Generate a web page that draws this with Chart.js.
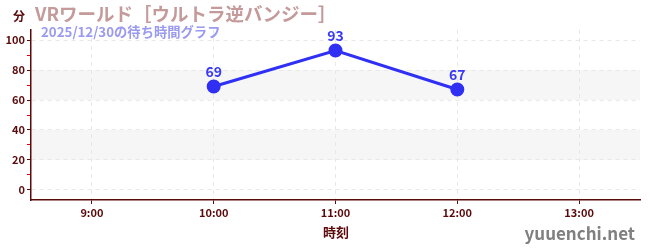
<!DOCTYPE html>
<html><head><meta charset="utf-8">
<script src="https://cdn.jsdelivr.net/npm/chart.js@4/dist/chart.umd.min.js"></script>
<style>html,body{margin:0;padding:0;background:#fff}#w{position:relative;width:650px;height:250px}</style>
</head><body><div id="w"><canvas id="c" width="650" height="250"></canvas></div>
<script>
const hours = [10, 11, 12];
const waits = [69, 93, 67];
const xTickHours = [9, 10, 11, 12, 13];
const yTicks = [0, 20, 40, 60, 80, 100];
const bands = [[20, 40], [60, 80]];
const titleText = "VRワールド［ウルトラ逆バンジー］";
const subText = "2025/12/30の待ち時間グラフ";
const unitText = "分";
const xTitle = "時刻";
const siteText = "yuuenchi.net";

const FONT = "'Noto Sans CJK JP','Noto Sans',sans-serif";
const DARK = "#5a0a0a";
const BLUE = "#3030f5";

const deco = {
  id: 'deco',
  beforeDraw(chart) {
    const {ctx, chartArea: a, scales: {y}} = chart;
    ctx.save();
    ctx.fillStyle = '#f6f6f6';
    bands.forEach(([lo, hi]) => {
      const t = y.getPixelForValue(hi), b = y.getPixelForValue(lo);
      ctx.fillRect(a.left, t, a.right - a.left, b - t);
    });
    ctx.restore();
  },
  afterDraw(chart) {
    const {ctx} = chart;
    const meta = chart.getDatasetMeta(0);
    ctx.save();
    ctx.textAlign = 'center';
    ctx.textBaseline = 'alphabetic';
    ctx.font = "bold 14px " + FONT;
    ctx.fillStyle = '#3a3af5';
    meta.data.forEach((p, i) => ctx.fillText(String(waits[i]), p.x, p.y - 10));
    ctx.textAlign = 'left';
    ctx.font = "bold 12px " + FONT;
    ctx.fillStyle = DARK;
    ctx.fillText(unitText, 13, 21);
    ctx.font = "bold 18.5px " + FONT;
    ctx.fillStyle = '#c49a9a';
    ctx.fillText(titleText, 35, 21);
    ctx.font = "bold 13.3px " + FONT;
    ctx.fillStyle = '#9a9af0';
    ctx.fillText(subText, 41, 37);
    ctx.textAlign = 'center';
    ctx.font = "bold 13px " + FONT;
    ctx.fillStyle = DARK;
    ctx.fillText(xTitle, 336, 237);
    ctx.textAlign = 'right';
    ctx.font = "bold 17px " + FONT;
    ctx.fillStyle = '#808080';
    ctx.fillText(siteText, 635, 240);
    ctx.restore();
  }
};

new Chart(document.getElementById('c'), {
  type: 'line',
  data: {
    datasets: [{
      data: hours.map((h, i) => ({x: h, y: waits[i]})),
      borderColor: BLUE,
      backgroundColor: BLUE,
      borderWidth: 3,
      pointRadius: 5.5,
      pointHoverRadius: 5.5,
      tension: 0
    }]
  },
  options: {
    responsive: false,
    animation: false,
    events: [],
    layout: {padding: {left: 0, top: 30, right: 10, bottom: 0}},
    plugins: {legend: {display: false}, tooltip: {enabled: false}},
    scales: {
      x: {
        type: 'linear', min: 8.5, max: 13.5,
        afterBuildTicks(s) { s.ticks = xTickHours.map(v => ({value: v})); },
        afterFit(s) { s.height = 50; },
        ticks: {
          color: DARK, font: {family: FONT, size: 11, weight: 'bold'}, padding: 2,
          callback: v => v + ':00'
        },
        grid: {color: '#e8e8e8', tickColor: DARK, tickLength: 4},
        border: {color: DARK, width: 1.5, dash: [4, 4]},
      },
      y: {
        min: -6.67, max: 106.67,
        afterBuildTicks(s) {
          const t = [];
          for (let v = 0; v <= 100; v += 10) t.push({value: v});
          s.ticks = t;
        },
        afterFit(s) { s.width = 31; },
        ticks: {
          color: DARK, font: {family: FONT, size: 11, weight: 'bold'}, padding: 2,
          callback: v => (v % 20 === 0 ? String(v) : '')
        },
        grid: {
          color: c => (c.tick && c.tick.value % 20 === 0 ? '#e8e8e8' : 'rgba(0,0,0,0)'),
          tickColor: c => (c.tick && c.tick.value % 20 === 0 ? DARK : '#e00000'),
          tickLength: 4
        },
        border: {color: DARK, width: 1.5, dash: [4, 4]},
      }
    }
  },
  plugins: [deco]
});
</script>
</body></html>
